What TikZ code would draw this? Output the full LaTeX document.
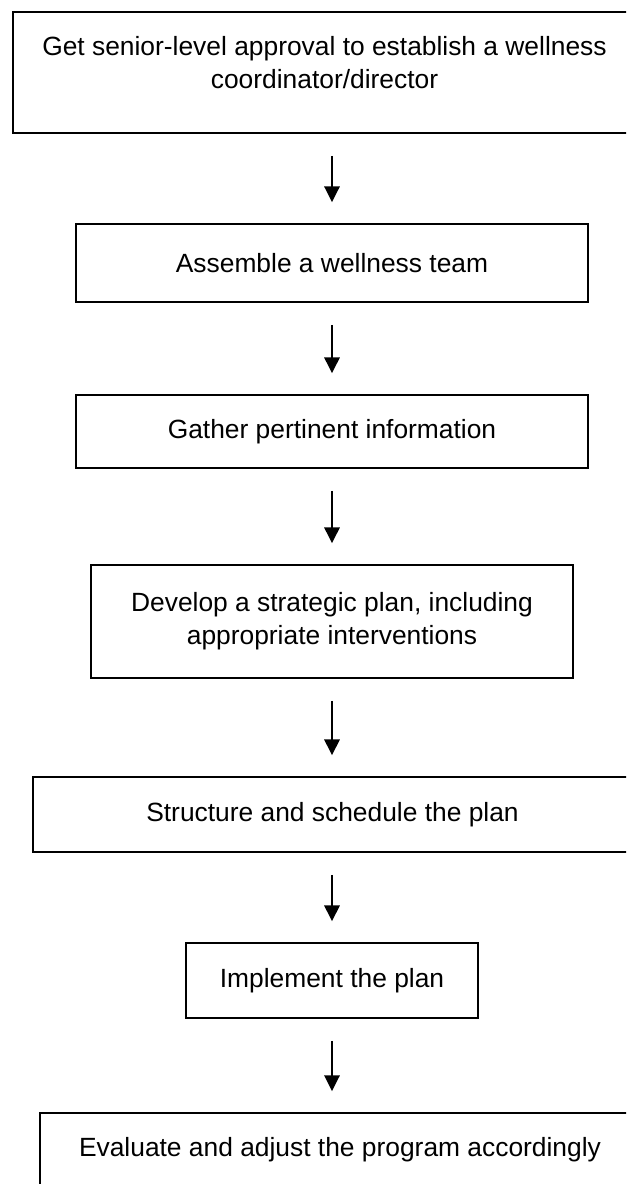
\documentclass[tikz,border=0pt]{standalone}
\usepackage{fontspec}
\setmainfont{Liberation Sans}
\usetikzlibrary{arrows.meta}
\begin{document}
\begin{tikzpicture}[x=0.455pt,y=-0.455pt,>={Triangle[width=7pt,length=7.2pt]},
  box/.style={draw,line width=0.85pt,align=center,inner sep=0pt,font=\fontsize{12}{15}\selectfont},
  flow/.style={->,line width=0.9pt,shorten <=10pt,shorten >=9.5pt}]
\useasboundingbox (0,0) rectangle (626,1184);
\clip (0,0) rectangle (626,1184);
% the steps
\node[box,minimum width=283.5pt,minimum height=55pt] (approval) at (324.5,72.5)
  {Get senior-level approval to establish a wellness\\coordinator/director\\[-6pt]\mbox{}};
\node[box,minimum width=233pt,minimum height=35.5pt] (team) at (332,263) {Assemble a wellness team};
\node[box,minimum width=233pt,minimum height=33.2pt] (info) at (332,431.5) {Gather pertinent information};
\node[box,minimum width=219.3pt,minimum height=51.4pt] (plan) at (332,621.5)
  {Develop a strategic plan, including\\appropriate interventions};
\node[box,minimum width=272.5pt,minimum height=34.1pt] (schedule) at (332.5,814.5) {Structure and schedule the plan};
\node[box,minimum width=132.9pt,minimum height=34.1pt] (implement) at (332,980.5) {Implement the plan};
\node[box,minimum width=273pt,minimum height=33.7pt] (evaluate) at (340,1150) {Evaluate and adjust the program accordingly};
% arrows
\draw[flow] (approval.south -| team.north) -- (team.north);
\draw[flow] (team.south) -- (info.north);
\draw[flow] (info.south) -- (plan.north);
\draw[flow] (plan.south) -- (schedule.north -| plan.south);
\draw[flow] (schedule.south -| implement.north) -- (implement.north);
\draw[flow] (implement.south) -- (evaluate.north -| implement.south);
\end{tikzpicture}
\end{document}
